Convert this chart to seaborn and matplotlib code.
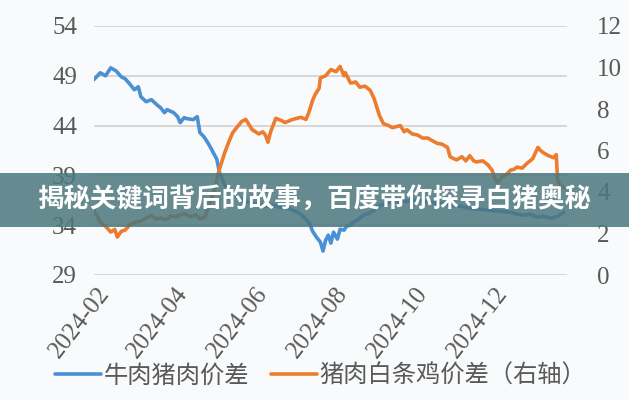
import pandas as pd
import numpy as np
import matplotlib
matplotlib.use("Agg")
import matplotlib.pyplot as plt
import matplotlib.dates as mdates
from matplotlib.patches import Rectangle
import seaborn as sns

# 牛肉猪肉价差 (left axis)
beef_dates = ["2024-01-30", "2024-02-04", "2024-02-08", "2024-02-12", "2024-02-16", "2024-02-20",
              "2024-02-23", "2024-02-27", "2024-03-01", "2024-03-04", "2024-03-06", "2024-03-10",
              "2024-03-14", "2024-03-19", "2024-03-21", "2024-03-24", "2024-03-26", "2024-03-31",
              "2024-04-03", "2024-04-05", "2024-04-08", "2024-04-10", "2024-04-15", "2024-04-18",
              "2024-04-20", "2024-04-23", "2024-04-26", "2024-04-29", "2024-05-03", "2024-05-05",
              "2024-05-08", "2024-05-11", "2024-05-14", "2024-05-18", "2024-05-24", "2024-05-30",
              "2024-06-04", "2024-06-10", "2024-06-14", "2024-06-20", "2024-06-25", "2024-06-30",
              "2024-07-05", "2024-07-10", "2024-07-13", "2024-07-15", "2024-07-18", "2024-07-21",
              "2024-07-23", "2024-07-25", "2024-07-27", "2024-07-29", "2024-07-31", "2024-08-03",
              "2024-08-05", "2024-08-08", "2024-08-10", "2024-08-13", "2024-08-15", "2024-08-19",
              "2024-08-23", "2024-08-27", "2024-08-31", "2024-09-03", "2024-09-09", "2024-09-15",
              "2024-09-20", "2024-09-28", "2024-10-05", "2024-10-13", "2024-10-21", "2024-10-28",
              "2024-11-05", "2024-11-12", "2024-11-20", "2024-11-27", "2024-12-05", "2024-12-13",
              "2024-12-18", "2024-12-24", "2024-12-28", "2025-01-03", "2025-01-07", "2025-01-13",
              "2025-01-18", "2025-01-23"]
beef_vals = [48.6, 49.3, 49.0, 49.8, 49.5, 48.9,
             48.7, 48.1, 47.6, 47.9, 46.9, 46.4,
             46.6, 46.0, 45.8, 45.3, 45.6, 45.3,
             44.9, 44.3, 44.8, 44.7, 44.6, 44.9,
             43.3, 42.9, 42.3, 41.6, 40.6, 39.3,
             38.3, 37.6, 37.4, 36.9, 36.4, 36.2,
             36.1, 35.9, 36.0, 35.8, 35.8, 35.5,
             35.2, 34.6, 34.1, 33.4, 32.8, 32.3,
             31.4, 32.5, 33.0, 32.2, 33.3, 32.6,
             33.6, 33.5, 33.9, 34.0, 34.3, 34.6,
             35.0, 35.2, 35.5, 35.9, 36.2, 36.4,
             36.3, 36.5, 36.5, 36.3, 36.2, 36.0,
             35.9, 35.7, 35.6, 35.5, 35.4, 35.3,
             35.1, 35.0, 35.1, 34.8, 34.9, 34.7,
             34.9, 35.3]

# 猪肉白条鸡价差 (right axis)
chick_dates = ["2024-01-30", "2024-02-02", "2024-02-04", "2024-02-08", "2024-02-12", "2024-02-15",
               "2024-02-17", "2024-02-20", "2024-02-23", "2024-02-27", "2024-03-02", "2024-03-06",
               "2024-03-10", "2024-03-14", "2024-03-18", "2024-03-21", "2024-03-25", "2024-03-29",
               "2024-04-02", "2024-04-05", "2024-04-09", "2024-04-13", "2024-04-17", "2024-04-20",
               "2024-04-24", "2024-04-27", "2024-04-29", "2024-05-02", "2024-05-04", "2024-05-07",
               "2024-05-09", "2024-05-12", "2024-05-15", "2024-05-18", "2024-05-22", "2024-05-25",
               "2024-05-27", "2024-05-30", "2024-06-04", "2024-06-07", "2024-06-09", "2024-06-11",
               "2024-06-13", "2024-06-17", "2024-06-21", "2024-06-24", "2024-06-30", "2024-07-06",
               "2024-07-10", "2024-07-12", "2024-07-15", "2024-07-17", "2024-07-20", "2024-07-21",
               "2024-07-25", "2024-07-29", "2024-08-02", "2024-08-05", "2024-08-08", "2024-08-09",
               "2024-08-13", "2024-08-17", "2024-08-20", "2024-08-24", "2024-08-28", "2024-08-31",
               "2024-09-02", "2024-09-04", "2024-09-07", "2024-09-11", "2024-09-14", "2024-09-20",
               "2024-09-23", "2024-09-25", "2024-09-29", "2024-10-03", "2024-10-07", "2024-10-11",
               "2024-10-15", "2024-10-18", "2024-10-22", "2024-10-26", "2024-10-28", "2024-10-31",
               "2024-11-02", "2024-11-06", "2024-11-09", "2024-11-12", "2024-11-15", "2024-11-17",
               "2024-11-22", "2024-11-26", "2024-11-29", "2024-12-01", "2024-12-03", "2024-12-05",
               "2024-12-07", "2024-12-11", "2024-12-13", "2024-12-16", "2024-12-18", "2024-12-22",
               "2024-12-26", "2024-12-30", "2025-01-03", "2025-01-05", "2025-01-07", "2025-01-11",
               "2025-01-15", "2025-01-17", "2025-01-18", "2025-01-20", "2025-01-23"]
chick_vals = [3.1, 2.8, 2.55, 2.35, 2.07, 2.2,
              1.83, 2.1, 2.17, 2.45, 2.55, 2.6,
              2.75, 2.85, 2.7, 2.75, 2.65, 2.85,
              2.8, 2.9, 2.95, 2.8, 2.9, 2.7,
              2.8, 3.4, 3.7, 4.25, 4.9, 5.5,
              5.9, 6.4, 6.85, 7.1, 7.4, 7.5,
              7.3, 7.0, 6.8, 6.9, 6.75, 6.4,
              6.9, 7.55, 7.45, 7.35, 7.5, 7.6,
              7.5, 7.8, 8.4, 8.7, 9.0, 9.5,
              9.6, 9.9, 9.8, 10.05, 9.6, 9.75,
              9.25, 9.3, 9.05, 9.1, 8.9, 8.5,
              8.1, 7.7, 7.3, 7.2, 7.1, 7.2,
              6.9, 7.0, 6.8, 6.75, 6.6, 6.6,
              6.45, 6.35, 6.3, 6.15, 5.7, 5.6,
              5.55, 5.7, 5.5, 5.75, 5.5, 5.45,
              5.5, 5.3, 5.05, 4.7, 4.45, 4.6,
              4.75, 4.9, 5.05, 5.1, 5.2, 5.15,
              5.4, 5.6, 6.15, 6.0, 5.9, 5.75,
              5.65, 5.8, 4.6, 4.3, 4.2]

left_ticks = [29, 34, 39, 44, 49, 54]
right_ticks = [0, 2, 4, 6, 8, 10, 12]
label_beef = "牛肉猪肉价差"
label_chick = "猪肉白条鸡价差（右轴）"
banner_text = "揭秘关键词背后的故事，百度带你探寻白猪奥秘"

beef_df = pd.DataFrame({"date": pd.to_datetime(beef_dates), "val": beef_vals})
chick_df = pd.DataFrame({"date": pd.to_datetime(chick_dates), "val": chick_vals})

sns.set_style("white")
plt.rcParams['font.family'] = ['Liberation Serif', 'Noto Sans CJK SC', 'DejaVu Sans']

tick_col = "#595959"
fig = plt.figure(figsize=(6.29, 4.0), dpi=100, facecolor="#f9fafb")
ax = fig.add_axes([0.149, 0.3125, 0.752, 0.6225])
ax.set_facecolor("none")
ax2 = ax.twinx()

sns.lineplot(data=beef_df, x="date", y="val", ax=ax, color="#4a90d4", linewidth=2.6, label=label_beef, legend=False)
sns.lineplot(data=chick_df, x="date", y="val", ax=ax2, color="#ec7c2e", linewidth=2.6, label=label_chick, legend=False)

ax.set_ylim(29, 54)
ax.set_yticks(left_ticks)
ax2.set_ylim(0, 12)
ax2.set_yticks(right_ticks)
ax.set_xlim(pd.Timestamp("2024-01-30"), pd.Timestamp("2025-01-25"))
ax.xaxis.set_major_locator(mdates.MonthLocator(bymonth=[2, 4, 6, 8, 10, 12]))
ax.xaxis.set_major_formatter(mdates.DateFormatter("%Y-%m"))

ax.grid(axis="y", color="#d4d4d4", linewidth=1.3)
ax.set_axisbelow(True)
for a in (ax, ax2):
    for s in a.spines.values():
        s.set_visible(False)
    a.set_xlabel("")
    a.set_ylabel("")
    a.tick_params(length=0, labelsize=18, labelcolor=tick_col)
ax.tick_params(axis="y", pad=12)
ax2.tick_params(axis="y", pad=22)
for lab in ax.get_xticklabels():
    lab.set_rotation(52)
    lab.set_ha("right")
    lab.set_rotation_mode("anchor")
ax.tick_params(axis="x", pad=6)

# legend at the bottom
handles = ax.get_lines()[:1] + ax2.get_lines()[:1]
fig.legend(handles, [label_beef, label_chick], loc="center", bbox_to_anchor=(0.51, 0.06), ncol=2,
           frameon=False, handlelength=1.9, handletextpad=0.1, columnspacing=0.9,
           prop={"family": ["Noto Sans CJK SC"], "size": 17.5, "weight": "light"}, labelcolor=tick_col)

# banner over the chart
fig.patches.append(Rectangle((0, 1 - 227 / 400), 1, 54 / 400, transform=fig.transFigure,
                             facecolor="#4b777e", alpha=0.85, edgecolor="none", zorder=10))
fig.text(0.5, 1 - 200 / 400, banner_text, ha="center", va="center", color="white", fontsize=19,
         fontweight="bold", family=["Noto Sans CJK SC"], zorder=11)

fig.savefig("out.png", dpi=100, facecolor=fig.get_facecolor())
